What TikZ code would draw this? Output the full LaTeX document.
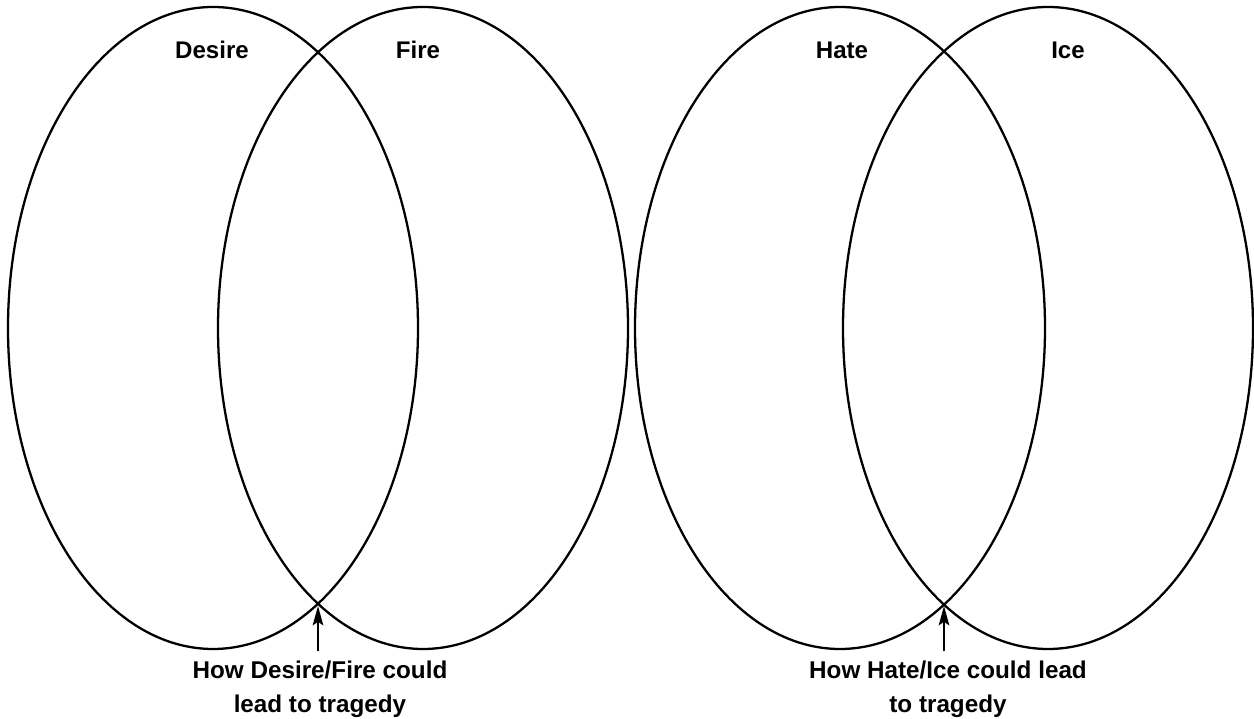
\documentclass[tikz,border=0pt]{standalone}
\usepackage{fontspec}
\setmainfont{Liberation Sans}
\usetikzlibrary{shapes,arrows.meta}
\tikzstyle{ring}=[ellipse,draw=black,line width=1.3pt,minimum width=8.2cm,minimum height=12.84cm,inner sep=0pt]
\tikzstyle{lbl}=[font=\fontsize{13.7}{16}\selectfont\bfseries,inner sep=1pt]
\tikzstyle{captxt}=[font=\fontsize{13.8}{19.4}\selectfont\bfseries,align=center,inner sep=1pt]

\begin{document}
\begin{tikzpicture}
\useasboundingbox (0,0) rectangle (25.08,14.38);
\node[ring] (desire) at (4.26,7.82) {}; \node[ring] (fire) at (8.46,7.82) {};
\node[ring] (hate) at (16.8,7.82) {}; \node[ring] (ice) at (20.96,7.82) {};
\node[lbl] (tdesire) at (4.24,13.38) {Desire};
\node[lbl] (tfire) at (8.36,13.38) {Fire};
\node[lbl] (thate) at (16.84,13.38) {Hate};
\node[lbl] (tice) at (21.36,13.38) {Ice};
\coordinate (dfmeet) at (6.36,2.26);
\coordinate (himeet) at (18.88,2.26);
\node[captxt,anchor=north] (dfcap) at (6.4,1.2) {How Desire/Fire could\\lead to tragedy};
\node[captxt,anchor=north] (hicap) at (18.96,1.2) {How Hate/Ice could lead\\to tragedy};
\draw[line width=1.1pt,-{Stealth[length=11pt,width=6pt,inset=2pt]}] ([yshift=1.5mm]dfcap.north -| dfmeet) -- (dfmeet);
\draw[line width=1.1pt,-{Stealth[length=11pt,width=6pt,inset=2pt]}] ([yshift=1.5mm]hicap.north -| himeet) -- (himeet);
\end{tikzpicture}
\end{document}
